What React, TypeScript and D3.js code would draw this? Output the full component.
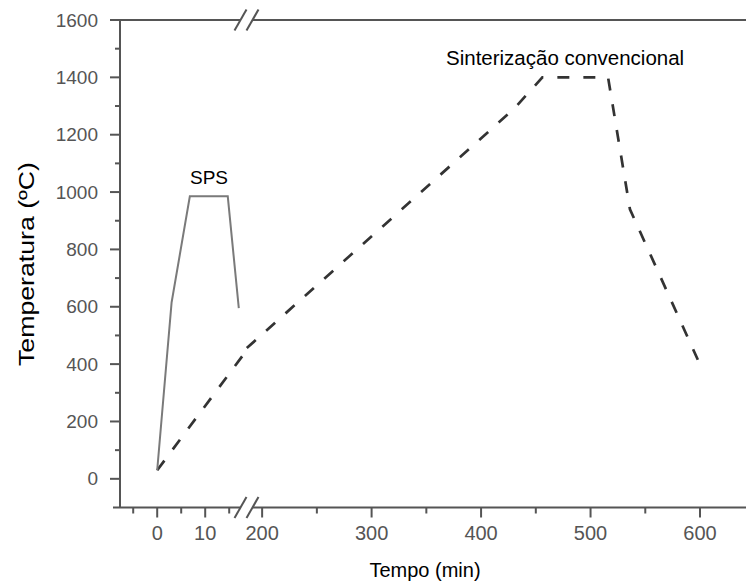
import React from "react";
import * as d3 from "d3";

// Heating profiles: time (min) vs temperature (°C)
const spsTime = [0, 3, 6.8, 14.7, 17];
const spsTemp = [30, 615, 985, 985, 595];

// Conventional sintering, part shown on the short-time axis segment
const convEarlyTime = [0, 18.5];
const convEarlyTemp = [30, 445];
// Conventional sintering, part shown on the long-time axis segment
const convLateTime = [186, 430, 456, 516, 536, 598];
const convLateTemp = [456, 1290, 1400, 1400, 940, 415];

const yMajorTicks = [0, 200, 400, 600, 800, 1000, 1200, 1400, 1600];
const yMinorTicks = [100, 300, 500, 700, 900, 1100, 1300, 1500];
const xShortMajor = [0, 10];
const xShortMinor = [-5, 5, 15];
const xLongMajor = [200, 300, 400, 500, 600];
const xLongMinor = [250, 350, 450, 550];

const W = 746;
const H = 583;
const FONT = "'Liberation Sans', Arial, sans-serif";
const AXIS = "#555";

export default function App() {
  const y = d3.scaleLinear().domain([-100, 1600]).range([507.5, 20]);
  const xShort = d3.scaleLinear().domain([-7.75, 18.5]).range([120, 246]);
  const xLong = d3.scaleLinear().domain([186, 642]).range([246.8, 746]);

  const left = 120;
  const bottom = y(-100);
  const top = y(1600);
  const breakX = 246.5;

  const lineShort = d3
    .line<number>()
    .x((_, i) => xShort(spsTime[i]))
    .y((d) => y(d));
  const convEarly = d3
    .line<number>()
    .x((_, i) => xShort(convEarlyTime[i]))
    .y((d) => y(d));
  const convLate = d3
    .line<number>()
    .x((_, i) => xLong(convLateTime[i]))
    .y((d) => y(d));

  const breakMarks = (cy: number) => (
    <g>
      <rect x={breakX - 6} y={cy - 3} width={12} height={6} fill="#fff" />
      {[-6, 6].map((dx) => (
        <line
          key={dx}
          x1={breakX + dx - 6}
          y1={cy + 10.5}
          x2={breakX + dx + 6}
          y2={cy - 10.5}
          stroke={AXIS}
          strokeWidth={2}
        />
      ))}
    </g>
  );

  return (
    <svg
      width={W}
      height={H}
      style={{ position: "absolute", left: 0, top: 0, background: "#fff" }}
      fontFamily={FONT}
    >
      {/* frame lines */}
      <line x1={left} y1={top} x2={left} y2={bottom} stroke={AXIS} strokeWidth={2} />
      <line x1={110} y1={top} x2={W} y2={top} stroke={AXIS} strokeWidth={2} />
      <line x1={113} y1={bottom} x2={W} y2={bottom} stroke={AXIS} strokeWidth={2} />

      {/* y ticks */}
      {yMajorTicks.map((t) => (
        <g key={"ym" + t}>
          <line x1={left - 10} x2={left} y1={y(t)} y2={y(t)} stroke={AXIS} strokeWidth={2} />
          <text
            x={left - 22}
            y={y(t)}
            dy="0.35em"
            textAnchor="end"
            fontSize={19}
            fill="#555"
          >
            {t}
          </text>
        </g>
      ))}
      {yMinorTicks.map((t) => (
        <line key={"yn" + t} x1={left - 5} x2={left} y1={y(t)} y2={y(t)} stroke={AXIS} strokeWidth={2} />
      ))}

      {/* x ticks, short segment */}
      {xShortMajor.map((t) => (
        <g key={"xs" + t}>
          <line x1={xShort(t)} x2={xShort(t)} y1={bottom} y2={bottom + 10} stroke={AXIS} strokeWidth={2} />
          <text x={xShort(t)} y={bottom + 32} textAnchor="middle" fontSize={20} fill="#555">
            {t}
          </text>
        </g>
      ))}
      {xShortMinor.map((t) => (
        <line key={"xsn" + t} x1={xShort(t)} x2={xShort(t)} y1={bottom} y2={bottom + 6} stroke={AXIS} strokeWidth={2} />
      ))}

      {/* x ticks, long segment */}
      {xLongMajor.map((t) => (
        <g key={"xl" + t}>
          <line x1={xLong(t)} x2={xLong(t)} y1={bottom} y2={bottom + 10} stroke={AXIS} strokeWidth={2} />
          <text x={xLong(t)} y={bottom + 32} textAnchor="middle" fontSize={20} fill="#555">
            {t}
          </text>
        </g>
      ))}
      {xLongMinor.map((t) => (
        <line key={"xln" + t} x1={xLong(t)} x2={xLong(t)} y1={bottom} y2={bottom + 6} stroke={AXIS} strokeWidth={2} />
      ))}

      {/* axis breaks */}
      {breakMarks(top)}
      {breakMarks(bottom)}

      {/* curves */}
      <path
        d={convEarly(convEarlyTemp) || ""}
        fill="none"
        stroke="#333"
        strokeWidth={2.7}
        strokeDasharray="12,14"
      />
      <path
        d={convLate(convLateTemp) || ""}
        fill="none"
        stroke="#333"
        strokeWidth={2.7}
        strokeDasharray="12,14"
      />
      <path
        d={lineShort(spsTemp) || ""}
        fill="none"
        stroke="#7a7a7a"
        strokeWidth={2}
        strokeLinejoin="miter"
      />

      {/* annotations */}
      <text x={xShort(10.8)} y={183.5} textAnchor="middle" fontSize={19} fill="#000">
        SPS
      </text>
      <text x={446} y={65} fontSize={20.5} fill="#000">
        Sinterização convencional
      </text>

      {/* axis titles */}
      <text x={425} y={577} textAnchor="middle" fontSize={20} fill="#000">
        Tempo (min)
      </text>
      <text
        transform={`translate(34, ${264}) rotate(-90)`}
        textAnchor="middle"
        fontSize={22}
        textLength={204}
        lengthAdjust="spacingAndGlyphs"
        fill="#000"
      >
        Temperatura (ºC)
      </text>
    </svg>
  );
}
